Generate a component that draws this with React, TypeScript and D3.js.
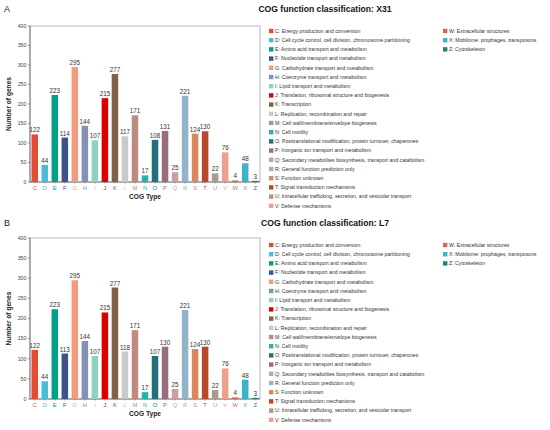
import React from "react";
import * as d3 from "d3";

const categories = ["C", "D", "E", "F", "G", "H", "I", "J", "K", "L", "M", "N", "O", "P", "Q", "R", "S", "T", "U", "V", "W", "X", "Z"];

const descriptions = [
  "Energy production and conversion",
  "Cell cycle control, cell division, chromosome partitioning",
  "Amino acid transport and metabolism",
  "Nucleotide transport and metabolism",
  "Carbohydrate transport and metabolism",
  "Coenzyme transport and metabolism",
  "Lipid transport and metabolism",
  "Translation, ribosomal structure and biogenesis",
  "Transcription",
  "Replication, recombination and repair",
  "Cell wall/membrane/envelope biogenesis",
  "Cell motility",
  "Posttranslational modification, protein turnover, chaperones",
  "Inorganic ion transport and metabolism",
  "Secondary metabolites biosynthesis, transport and catabolism",
  "General function prediction only",
  "Function unknown",
  "Signal transduction mechanisms",
  "Intracellular trafficking, secretion, and vesicular transport",
  "Defense mechanisms",
  "Extracellular structures",
  "Mobilome: prophages, transposons",
  "Cytoskeleton",
];

const colors = [
  "#e64b35", "#4dbbd5", "#00a087", "#3c5488", "#f39b7f", "#8491b4", "#91d1c2", "#dc0000",
  "#7e6148", "#c9c9c9", "#bf8a80", "#26b3ae", "#23707c", "#9a6c80", "#cc9ea3", "#91b5c6",
  "#d8875f", "#b8472b", "#a89a8e", "#eea08a", "#cf6a5a", "#3fb2c7", "#24807a",
];

const valuesX31 = [122, 44, 223, 114, 295, 144, 107, 215, 277, 117, 171, 17, 108, 131, 25, 221, 124, 130, 22, 76, 4, 48, 3];
const valuesL7 = [122, 44, 223, 113, 295, 144, 107, 215, 277, 118, 171, 17, 107, 130, 25, 221, 124, 130, 22, 76, 4, 48, 3];

const yTicks = [0, 50, 100, 150, 200, 250, 300, 350, 400];

const FONT = "'Liberation Sans', Arial, sans-serif";

interface PanelProps {
  label: string;
  title: string;
  values: number[];
  top: number;
  bottom: number;
  offset: number;
}

function Panel({ label, title, values, top, bottom, offset }: PanelProps) {
  const left = 30;
  const right = 260;

  const x = d3.scaleBand<string>().domain(categories).range([left, right]).paddingInner(0.35).paddingOuter(0.15);
  const y = d3.scaleLinear().domain([0, 400]).range([bottom, top]);

  const legendRows = 20;
  const legendStep = 9.2;
  const legendTop = offset + 31;

  return (
    <g fontFamily={FONT}>
      <text x={4} y={offset + 12} fontSize={9} fill="#222">{label}</text>
      <text x={325} y={offset + 12} fontSize={8.6} fontWeight="bold" textAnchor="middle" fill="#111">{title}</text>

      {/* frame */}
      <rect x={left} y={top} width={right - left} height={bottom - top} fill="none" stroke="#9a9a9a" strokeWidth={0.7} />
      <line x1={left} x2={left} y1={top} y2={bottom} stroke="#555" strokeWidth={0.7} />
      <line x1={left} x2={right} y1={bottom} y2={bottom} stroke="#555" strokeWidth={0.7} />

      {/* y axis */}
      {yTicks.map((t) => (
        <g key={t}>
          <line x1={left - 2} x2={left} y1={y(t)} y2={y(t)} stroke="#555" strokeWidth={0.6} />
          <text x={left - 3.5} y={y(t)} dy="0.35em" fontSize={5.3} textAnchor="end" fill="#444">{t}</text>
        </g>
      ))}
      <text
        transform={`translate(11,${(top + bottom) / 2}) rotate(-90)`}
        fontSize={6.6}
        fontWeight="bold"
        textAnchor="middle"
        fill="#222"
      >
        Number of genes
      </text>

      {/* bars */}
      {categories.map((c, i) => (
        <g key={c}>
          <rect x={x(c)} y={y(values[i])} width={x.bandwidth()} height={bottom - y(values[i])} fill={colors[i]} />
          <text x={(x(c) || 0) + x.bandwidth() / 2} y={y(values[i]) - 2} fontSize={6.3} textAnchor="middle" fill="#333">
            {values[i]}
          </text>
          <line x1={(x(c) || 0) + x.bandwidth() / 2} x2={(x(c) || 0) + x.bandwidth() / 2} y1={bottom} y2={bottom + 1.5} stroke="#555" strokeWidth={0.5} />
          <text x={(x(c) || 0) + x.bandwidth() / 2} y={bottom + 7.5} fontSize={5.8} textAnchor="middle" fill={colors[i]}>
            {c}
          </text>
        </g>
      ))}
      <text x={(left + right) / 2} y={bottom + 17} fontSize={6.6} fontWeight="bold" textAnchor="middle" fill="#222">
        COG Type
      </text>

      {/* legend */}
      {categories.map((c, i) => {
        const col = i < legendRows ? 0 : 1;
        const row = i < legendRows ? i : i - legendRows;
        const lx = col === 0 ? 269 : 443;
        const ly = legendTop + row * legendStep;
        return (
          <g key={"lg" + c}>
            <rect x={lx} y={ly - 2.2} width={4.4} height={4.4} fill={colors[i]} />
            <text x={lx + 6} y={ly} dy="0.35em" fontSize={5.2} fill="#333">
              {c}: {descriptions[i]}
            </text>
          </g>
        );
      })}
    </g>
  );
}

export default function App() {
  return (
    <svg width={550} height={430} style={{ position: "absolute", left: 0, top: 0, background: "#fff" }}>
      <Panel label="A" title="COG function classification: X31" values={valuesX31} top={26} bottom={182} offset={0} />
      <Panel label="B" title="COG function classification: L7" values={valuesL7} top={238} bottom={399} offset={214} />
    </svg>
  );
}
